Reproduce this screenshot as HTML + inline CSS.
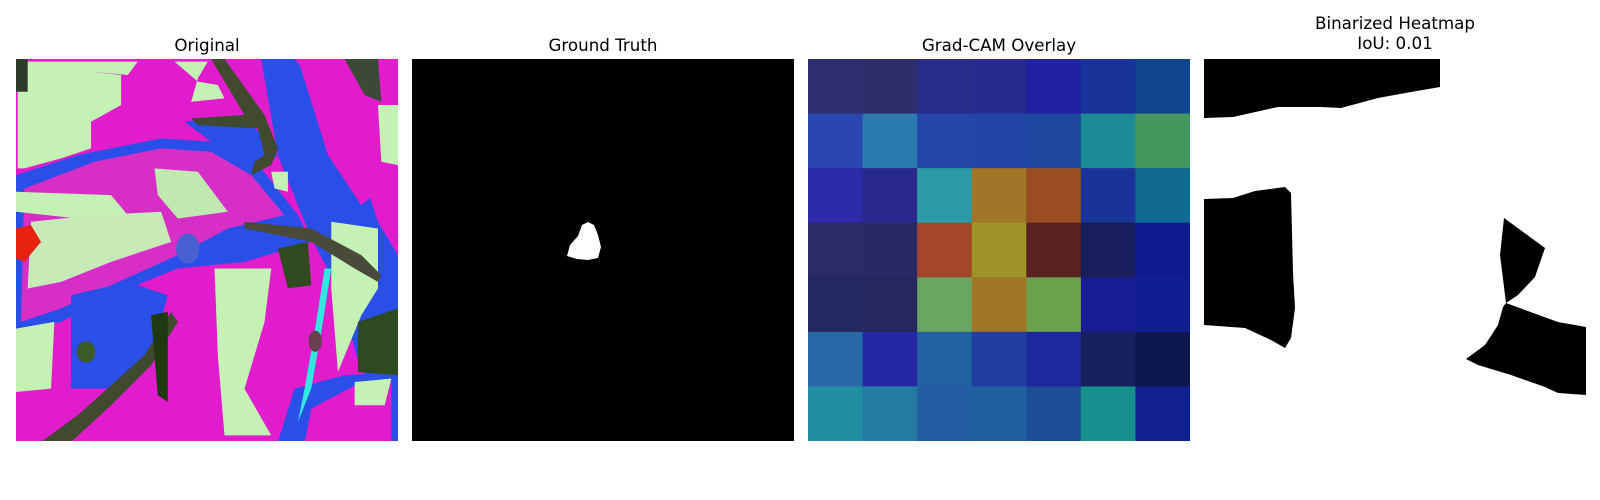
<!DOCTYPE html>
<html><head><meta charset="utf-8"><style>
html,body{margin:0;padding:0;background:#fff;}
body{width:1600px;height:500px;position:relative;overflow:hidden;font-family:"DejaVu Sans","Liberation Sans",sans-serif;}
.title{position:absolute;width:382px;text-align:center;font-size:16.7px;color:#000;line-height:20px;}
.panel{position:absolute;top:59px;width:382px;height:382px;}
</style></head><body>
<div class="title" style="left:16px;top:35px;">Original</div>
<div class="title" style="left:412px;top:35px;">Ground Truth</div>
<div class="title" style="left:808px;top:35px;">Grad-CAM Overlay</div>
<div class="title" style="left:1204px;top:13px;">Binarized Heatmap<br>IoU: 0.01</div>

<svg class="panel" style="left:16px" viewBox="15 12 1145 1145" preserveAspectRatio="none">
<rect x="15" y="12" width="1145" height="1145" fill="#e01ccc"/>
<polygon fill="#2a4ee8" points="15,360 200,300 450,250 600,260 750,340 860,480 900,560 700,620 500,640 300,720 150,800 15,830"/>
<polygon fill="#d82ec8" points="40,400 250,320 450,280 600,290 720,360 820,480 650,520 500,600 300,690 150,760 30,800"/>
<polygon fill="#2a4ee8" points="180,720 350,680 470,720 420,900 300,1000 180,1000"/>
<polygon fill="#2a4ee8" points="750,12 850,12 1000,200 1100,500 1160,600 1160,1000 1050,950 980,700 900,550 800,300"/>
<polygon fill="#e01ccc" points="860,12 1000,12 1080,200 1110,400 1050,450 950,300"/>
<polygon fill="#2a4ee8" points="850,1000 1000,960 1160,950 1160,1160 800,1160"/>
<polygon fill="#e01ccc" points="900,1060 1050,980 1140,970 1140,1160 880,1160"/>
<polygon fill="#2a4ee8" points="520,200 700,180 800,300 720,360 600,260"/>
<polygon fill="#c4f2b4" points="20,20 380,20 350,60 240,50 330,60 330,150 240,200 240,280 150,310 40,340 20,340"/>
<polygon fill="#c4f2b4" points="490,20 590,20 560,70 540,140 640,130 620,90 560,80"/>
<polygon fill="#c4f2b4" points="15,410 300,420 350,480 200,490 15,470"/>
<polygon fill="#c8eab8" points="60,500 250,480 450,470 480,560 300,620 150,680 50,700"/>
<polygon fill="#c0e8b0" points="430,340 560,350 650,470 500,490 440,420"/>
<polygon fill="#c4f2b4" points="610,640 780,640 760,800 700,1000 780,1140 640,1140 620,900"/>
<polygon fill="#c4f2b4" points="15,820 130,800 120,1000 15,1010"/>
<polygon fill="#c4f2b4" points="960,500 1100,520 1100,700 1050,780 980,950 960,700"/>
<polygon fill="#c4f2b4" points="1100,150 1160,150 1160,330 1110,320"/>
<polygon fill="#c4f2b4" points="780,350 830,350 830,410 790,400"/>
<polygon fill="#c4f2b4" points="1030,980 1140,970 1120,1050 1030,1050"/>
<polygon fill="#3f4a2e" points="600,12 640,12 760,180 800,280 780,330 720,360 730,320 760,300 740,220 560,210 540,190 700,180"/>
<polygon fill="#4a4a3a" points="700,500 900,520 1050,600 1110,660 1100,680 1030,640 900,560 700,520"/>
<polygon fill="#3f4a2e" points="90,1160 200,1080 400,900 480,770 500,800 420,930 300,1050 180,1160"/>
<polygon fill="#324a20" points="800,580 890,560 900,690 830,700"/>
<ellipse cx="225" cy="890" rx="28" ry="32" fill="#3a5a2a"/>
<polygon fill="#1f3a10" points="420,780 470,770 470,1040 440,1020"/>
<polygon fill="#2e4a20" points="1040,800 1160,760 1160,960 1040,950"/>
<polygon fill="#3a4a35" points="1000,12 1100,12 1110,140 1060,120"/>
<polygon fill="#2e3a2a" points="15,12 50,12 50,110 15,110"/>
<polygon fill="#30e8e0" points="940,640 960,640 930,830 900,1000 860,1100 880,1000 910,830"/>
<ellipse cx="912" cy="858" rx="20" ry="32" fill="#6a4050"/>
<ellipse cx="530" cy="580" rx="35" ry="45" fill="#4860d0"/>
<polygon fill="#e82010" points="15,520 60,510 90,560 40,620 15,610"/>
</svg>

<svg class="panel" style="left:412px" viewBox="0 0 382 382">
<rect width="382" height="382" fill="#000"/>
<path fill="#fff" d="M176,163 L182,166 L186,176 L189,188 L186,199 L176,201 L165,200 L155,197 L158,186 L166,177 L170,166 Z"/>
</svg>

<svg class="panel" id="gradcam" style="left:808px" viewBox="0 0 382 382"></svg>

<svg class="panel" style="left:1204px" viewBox="0 0 382 382">
<rect width="382" height="382" fill="#fff"/>
<polygon fill="#000" points="0,0 236,0 236,28 207,33 174,39 137,49 117,48 74,48 29,58 0,59"/>
<polygon fill="#000" points="0,140 29,139 51,132 81,128 87,134 89,214 91,249 87,279 81,289 67,281 41,269 0,266"/>
<polygon fill="#000" points="300,159 341,189 331,218 314,236 302,244 296,196"/>
<polygon fill="#000" points="302,244 354,263 382,268 382,336 354,334 341,328 307,316 274,306 262,300 281,286 294,266 299,248"/>
</svg>

<script>
const rows = [0,1,2,3,4,5,6];
const cols = [0,1,2,3,4,5,6];
const row0 = ["#2e2f6e","#2d2e6b","#292d89","#282a8f","#1f21a0","#19329a","#10448f"];
const row1 = ["#2a46b0","#2c7bb0","#2645ab","#2244a5","#1d479e","#1b8c96","#43965d"];
const row2 = ["#2d2aa8","#29288d","#299ca8","#a17628","#994b22","#1a3399","#106a91"];
const row3 = ["#2a2b68","#282a65","#a44429","#9e9327","#5a2121","#181e5c","#0f1a8f"];
const row4 = ["#242862","#24285f","#68a660","#9e7624","#6ca04a","#191d92","#0f1f8f"];
const row5 = ["#2669a6","#2428a3","#2262a1","#223fa0","#1c2799","#171f5c","#0e174e"];
const row6 = ["#208fa0","#237ba3","#215fa2","#1f5f9d","#1c4e98","#178f8d","#0f218e"];
const cells = [row0,row1,row2,row3,row4,row5,row6];
(function(){
  const svg = document.getElementById('gradcam');
  const ns = 'http://www.w3.org/2000/svg';
  const size = 382 / cols.length;
  const xPos = c => c * size;
  const yPos = r => r * size;
  rows.forEach(r => cols.forEach(c => {
    const rect = document.createElementNS(ns, 'rect');
    rect.setAttribute('x', xPos(c));
    rect.setAttribute('y', yPos(r));
    rect.setAttribute('width', size + 0.5);
    rect.setAttribute('height', size + 0.5);
    rect.setAttribute('fill', cells[r][c]);
    
    
    svg.appendChild(rect);
  }));
})();
</script>
</body></html>
